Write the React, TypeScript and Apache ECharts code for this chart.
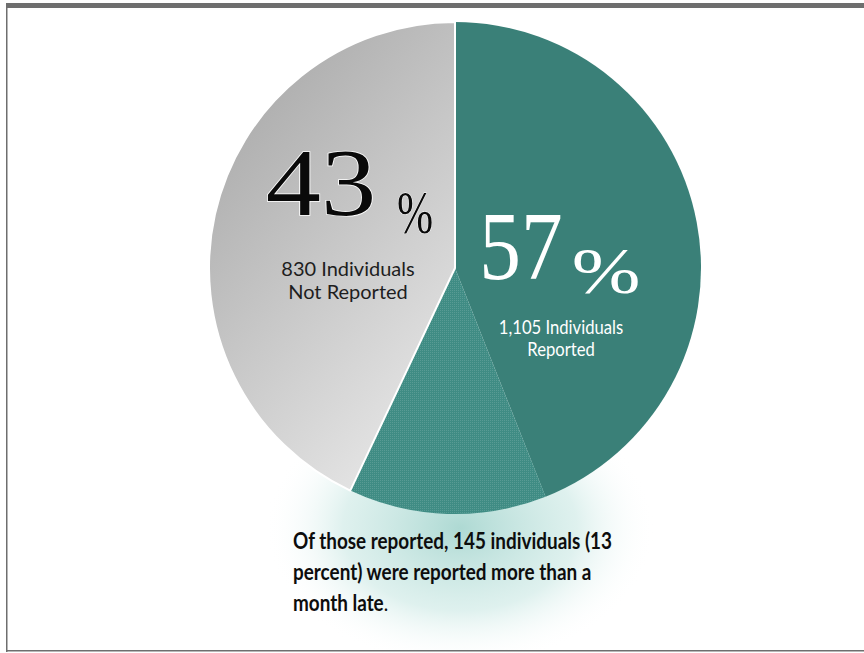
import React, { useEffect, useRef } from "react";
import * as echarts from "echarts";

const sliceNames = ["Reported on time", "Reported more than a month late", "Not Reported"];
const sliceValues = [44, 13, 43];
const bigLabels = ["43", "57"];
const subLabelsGrey = ["830 Individuals", "Not Reported"];
const subLabelsTeal = ["1,105 Individuals", "Reported"];
const noteLines = ["Of those reported, 145 individuals (13", "percent) were reported more than a", "month late"];

export default function App() {
  const ref = useRef<HTMLDivElement>(null);
  useEffect(() => {
    const chart = echarts.init(ref.current!, null, { renderer: "svg" });
    const sans = "Lato";
    const serif = "Liberation Serif";
    chart.setOption({
      animation: false,
      backgroundColor: "#ffffff",
      series: [
        {
          type: "pie",
          center: [455, 268],
          radius: 246,
          startAngle: 90,
          clockwise: true,
          silent: true,
          label: { show: false },
          labelLine: { show: false },
          z: 2,
          data: [
            { name: sliceNames[0], value: sliceValues[0], itemStyle: { color: "#3a8078" } },
            {
              name: sliceNames[1],
              value: sliceValues[1],
              itemStyle: {
                color: "#3f8c84",
                decal: {
                  symbol: "rect",
                  symbolSize: 1,
                  dashArrayX: [1, 1],
                  dashArrayY: [1, 1],
                  color: "rgba(255,255,255,0.13)",
                  rotation: 0,
                },
              },
            },
            {
              name: sliceNames[2],
              value: sliceValues[2],
              itemStyle: {
                color: {
                  type: "linear",
                  x: 0.2,
                  y: 0,
                  x2: 0.8,
                  y2: 1,
                  colorStops: [
                    { offset: 0, color: "#a7a7a7" },
                    { offset: 1, color: "#e9e9e9" },
                  ],
                },
                borderColor: "#ffffff",
                borderWidth: 2,
              },
            },
          ],
        },
      ],
      graphic: [
        {
          type: "ellipse",
          z: -10,
          shape: { cx: 460, cy: 528, rx: 195, ry: 138 },
          style: {
            fill: {
              type: "radial",
              x: 0.5,
              y: 0.5,
              r: 0.5,
              colorStops: [
                { offset: 0, color: "rgba(120,192,182,0.6)" },
                { offset: 0.6, color: "rgba(170,218,211,0.38)" },
                { offset: 1, color: "rgba(255,255,255,0)" },
              ],
            },
          },
        },
        { type: "rect", z: 50, shape: { x: 6, y: 3, width: 858, height: 5 }, style: { fill: "#6e6e6e" } },
        { type: "rect", z: 50, shape: { x: 6, y: 3, width: 1.5, height: 649 }, style: { fill: "#6e6e6e" } },
        { type: "rect", z: 50, shape: { x: 6, y: 650, width: 858, height: 1.5 }, style: { fill: "#6e6e6e" } },
        {
          type: "text",
          z: 100,
          x: 321,
          y: 183,
          scaleX: 1.15,
          style: {
            text: bigLabels[0],
            font: `normal 96px "${serif}"`,
            fill: "#0a0a0a",
            align: "center",
            verticalAlign: "middle",
            stroke: "#ffffff",
            lineWidth: 1.5,
            shadowColor: "rgba(0,0,0,0.45)",
            shadowBlur: 5,
            shadowOffsetX: 2,
            shadowOffsetY: 2,
          },
        },
        {
          type: "text",
          z: 100,
          x: 415,
          y: 212,
          scaleX: 0.7,
          style: {
            text: "%",
            font: `normal 62px "${serif}"`,
            fill: "#0a0a0a",
            align: "center",
            verticalAlign: "middle",
            stroke: "#ffffff",
            lineWidth: 1,
            shadowColor: "rgba(0,0,0,0.45)",
            shadowBlur: 4,
            shadowOffsetX: 2,
            shadowOffsetY: 2,
          },
        },
        {
          type: "text",
          z: 100,
          x: 521,
          y: 246,
          scaleX: 0.85,
          style: {
            text: bigLabels[1],
            font: `normal 98px "${serif}"`,
            fill: "#ffffff",
            align: "center",
            verticalAlign: "middle",
            shadowColor: "rgba(0,0,0,0.5)",
            shadowBlur: 5,
            shadowOffsetX: 2,
            shadowOffsetY: 2,
          },
        },
        {
          type: "text",
          z: 100,
          x: 606,
          y: 270,
          scaleX: 1.25,
          style: {
            text: "%",
            font: `normal 66px "${serif}"`,
            fill: "#ffffff",
            align: "center",
            verticalAlign: "middle",
            shadowColor: "rgba(0,0,0,0.5)",
            shadowBlur: 5,
            shadowOffsetX: 2,
            shadowOffsetY: 2,
          },
        },
        ...subLabelsGrey.map((t, i) => ({
          type: "text",
          z: 100,
          x: 348,
          y: 268 + i * 23,
          style: {
            text: t,
            font: `normal 20px "${sans}"`,
            fill: "#1e1e1e",
            align: "center",
            verticalAlign: "middle",
          },
        })),
        ...subLabelsTeal.map((t, i) => ({
          type: "text",
          z: 100,
          x: 561,
          y: 327 + i * 22,
          scaleX: 0.9,
          style: {
            text: t,
            font: `normal 18.5px "${sans}"`,
            fill: "#ffffff",
            align: "center",
            verticalAlign: "middle",
          },
        })),
        ...noteLines.map((t, i) => ({
          type: "text",
          z: 100,
          x: 293,
          y: 540 + i * 31,
          scaleX: 0.86,
          style: {
            text: i === 2 ? `{b|${t}}{n|.}` : t,
            font: `bold 22px "${sans}"`,
            fill: "#0d0d0d",
            align: "left",
            verticalAlign: "middle",
            rich: {
              b: { font: `bold 22px "${sans}"`, fill: "#0d0d0d" },
              n: { font: `normal 22px "${sans}"`, fill: "#0d0d0d" },
            },
          },
        })),
      ],
    } as any);
    return () => chart.dispose();
  }, []);
  return (
    <div
      ref={ref}
      style={{ position: "fixed", left: 0, top: 0, width: 864, height: 653, background: "#fff" }}
    />
  );
}
